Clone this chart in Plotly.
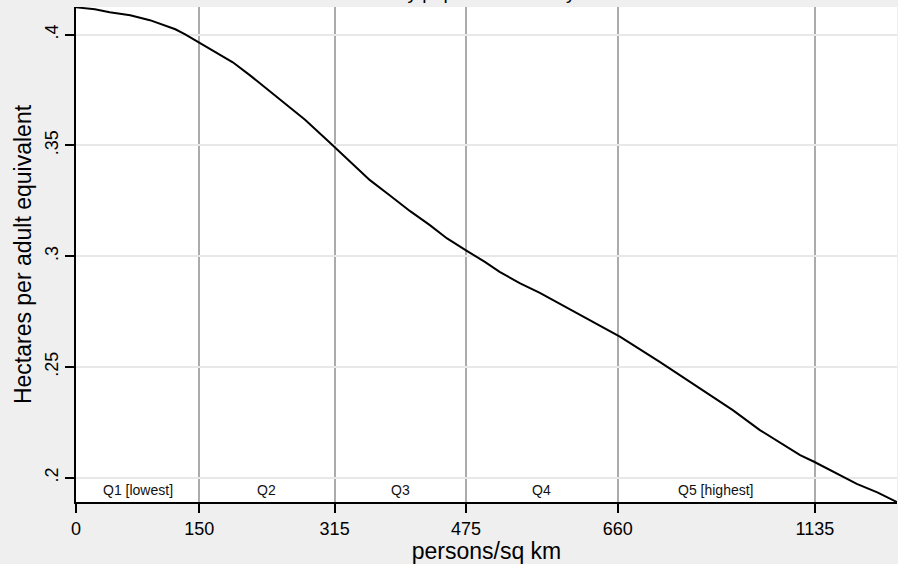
import plotly.graph_objects as go

# Smoothed relationship: hectares per adult equivalent vs population density
density = [0, 23, 41, 66, 90, 108, 121, 133, 151, 169, 191, 212, 236, 261, 279,
           309, 334, 358, 382, 407, 431, 452, 476, 498, 516, 541, 565, 590, 626,
           663, 711, 748, 800, 833, 882, 899, 951, 976, 1000]
hectares = [0.4123, 0.4114, 0.4101, 0.4087, 0.4065, 0.4042, 0.4024, 0.4001, 0.3961,
            0.3920, 0.3875, 0.3816, 0.3744, 0.3672, 0.3616, 0.3513, 0.3425, 0.3343,
            0.3275, 0.3203, 0.3140, 0.3080, 0.3024, 0.2974, 0.2929, 0.2877, 0.2834,
            0.2784, 0.2712, 0.2636, 0.2523, 0.2433, 0.2305, 0.2215, 0.2102, 0.2072,
            0.1972, 0.1934, 0.1890]

# Quintile cut points (axis positions) and their labels
cut_vals = [0, 150, 315, 475, 660, 900]
cut_labels = ["0", "150", "315", "475", "660", "1135"]
quintile_mid = [75, 232.5, 395, 567.5, 780]
quintile_names = ["Q1 [lowest]", "Q2", "Q3", "Q4", "Q5 [highest]"]

y_ticks = [0.2, 0.25, 0.3, 0.35, 0.4]
y_labels = [".2", ".25", ".3", ".35", ".4"]

FONT = "Arial, Liberation Sans, sans-serif"

fig = go.Figure()
fig.add_trace(go.Scatter(x=density, y=hectares, mode="lines",
                         line=dict(color="black", width=2), showlegend=False,
                         hoverinfo="skip"))

for xm, name in zip(quintile_mid, quintile_names):
    fig.add_annotation(x=xm, y=0.1946, xref="x", yref="y", text=name,
                       showarrow=False, font=dict(family=FONT, size=14, color="#111111"),
                       xanchor="center", yanchor="middle")

fig.add_annotation(x=0.5, y=1, xref="paper", yref="paper", yshift=2,
                   text="by population density", showarrow=False,
                   font=dict(family=FONT, size=19, color="black"),
                   xanchor="center", yanchor="bottom")

fig.update_layout(
    width=898, height=564,
    margin=dict(l=76, r=1, t=7, b=62),
    paper_bgcolor="#efefef",
    plot_bgcolor="white",
    font=dict(family=FONT, color="black"),
    xaxis=dict(range=[0, 1000], tickmode="array", tickvals=cut_vals, ticktext=cut_labels,
               showgrid=True, gridcolor="#ababab", gridwidth=2,
               showline=True, linecolor="black", linewidth=2,
               ticks="outside", ticklen=9, tickwidth=2, tickcolor="black",
               tickfont=dict(size=18), zeroline=False,
               title=dict(text="persons/sq km", font=dict(size=23), standoff=0)),
    yaxis=dict(range=[0.18904, 0.41245], tickmode="array", tickvals=y_ticks, ticktext=y_labels,
               showgrid=True, gridcolor="#e8e8e8", gridwidth=2,
               showline=True, linecolor="black", linewidth=2,
               ticks="outside", ticklen=9, tickwidth=2, tickcolor="black",
               tickangle=-90, tickfont=dict(size=18), zeroline=False,
               title=dict(text="Hectares per adult equivalent", font=dict(size=23), standoff=4)),
)

fig.write_html("out.html", config={"displayModeBar": False},
               post_script="document.body.style.margin='0';document.body.style.overflow='hidden';")
